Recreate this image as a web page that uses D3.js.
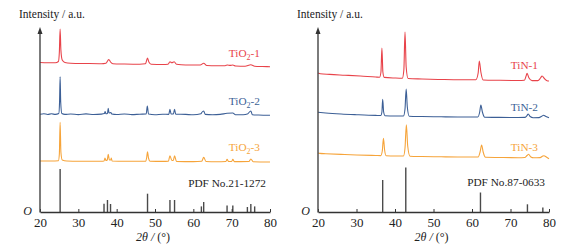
<!DOCTYPE html>
<html>
<head>
<meta charset="utf-8">
<script src="https://cdn.jsdelivr.net/npm/d3@7"></script>
<style>
  html, body { margin: 0; padding: 0; background: #fff; }
</style>
</head>
<body>
<div id="chart"></div>
<script>
// 2θ ticks
const xTicks = [20, 30, 40, 50, 60, 70, 80];

// XRD traces, [2θ, intensity a.u.]
const tio2_1 = [[20,149.5],[22,149.2],[24,149.2],[24.8,150.5],[25.05,160],[25.25,183],[25.45,162],[25.8,152],[26.5,149.5],[28,148.8],[32,148.5],[36,148.3],[37.2,148.8],[37.7,151.5],[37.95,152.5],[38.4,150],[39,148.3],[42,148],[46,147.8],[47.5,148.2],[47.85,152],[48.05,154],[48.4,150],[49,147.8],[52,147.5],[53.4,147.8],[53.9,150.3],[54.4,149.2],[55,150.3],[55.6,147.8],[58,147],[61.8,147],[62.7,148.8],[63.5,146.5],[66,146.2],[68.3,146.3],[68.9,147],[69.6,146.6],[70.3,147],[71,146],[73.5,145.8],[75,147.2],[76,145.8],[78,145.5],[80,145.3]];
const tio2_2 = [[20,97.7],[21,98.3],[22,97.5],[23,98.2],[24,97.6],[24.9,98.4],[25.1,110],[25.25,135.3],[25.4,110],[25.7,98.5],[26.5,97.6],[28,98],[30,97.4],[32,98.1],[34,97.5],[36,97.9],[36.8,98.5],[37,100.5],[37.2,98.2],[37.6,98.6],[37.8,103.7],[38,99],[38.5,99.5],[38.7,98],[40,97.5],[42,98],[44,97.4],[46,97.8],[47.7,98],[48,106],[48.3,98],[50,97.3],[52,97.8],[53.6,97.6],[53.9,102.7],[54.2,98],[54.8,98],[55.1,102.7],[55.4,97.8],[58,97.6],[60,97.2],[62,98.3],[62.2,99.5],[62.7,101],[63.1,97.6],[65,97.2],[67,97.6],[68.8,98.7],[70.3,99],[71,97.2],[73,97.3],[74.1,98],[75,101],[75.4,97.3],[77,97],[80,96.7]];
const tio2_3 = [[20,51],[23,51],[24.8,51.3],[25.05,58],[25.25,89.7],[25.45,60],[25.8,52],[27,51],[30,50.8],[36,50.8],[36.7,51],[36.95,54],[37.2,51.5],[37.55,52],[37.8,57.7],[38.1,52],[38.45,52],[38.6,54],[38.8,51],[42,50.7],[47.6,50.8],[47.85,55],[48.05,60.3],[48.3,54],[48.7,50.8],[52,50.6],[53.5,50.8],[53.9,56.3],[54.4,51.5],[54.8,51.8],[55.1,56.3],[55.6,50.6],[60,50.4],[62.2,50.8],[62.7,54.7],[63.3,50.5],[66,50.3],[68.5,50.5],[68.8,52.7],[69.2,50.5],[70,50.5],[70.3,52.7],[70.7,50.4],[74.5,50.5],[75,53],[75.6,50.3],[80,50]];
const tin_1 = [[20,139],[20.6,138.3],[23,137.6],[27,136.8],[31,136],[35,135],[36,134.8],[36.35,140],[36.6,164],[36.85,140],[37.2,134.6],[40,134],[41.9,133.8],[42.3,142],[42.6,180],[42.9,145],[43.4,133.5],[47,133],[52,132.5],[57,132.2],[61,132.3],[61.6,139],[61.9,151],[62.3,140],[62.9,132],[67,131.7],[72,131.5],[73.6,131.8],[74.05,136],[74.3,138.7],[74.8,134],[75.6,131.4],[77.1,131.4],[77.8,134],[78.2,136],[78.8,133.5],[79.5,131.3],[80,131]];
const tin_2 = [[20,99.7],[22,99],[26,98],[30,97.3],[35,96.6],[36.3,96.5],[36.6,100],[36.8,112.7],[37.05,100],[37.4,96.3],[40,96],[42.2,96],[42.6,103],[42.9,123],[43.2,105],[43.7,95.8],[47,95.5],[52,95.2],[57,95],[61.5,95],[62,100],[62.3,107],[62.7,100],[63.3,94.8],[67,94.6],[72,94.5],[73.8,94.6],[74.3,96.5],[74.6,98],[75.1,95.5],[75.9,94.3],[77.4,94.4],[78.1,95.7],[78.6,96.7],[79.2,95.5],[80,94.2]];
const tin_3 = [[20,59],[20.5,58.6],[22,58.3],[26,57.6],[30,57],[35,56.5],[36.3,56.4],[36.7,61],[37,73.7],[37.3,62],[37.7,56.3],[40,56],[42.2,56],[42.6,64],[42.95,87.3],[43.3,66],[43.9,55.8],[47,55.5],[52,55.2],[57,55],[61.6,55],[62.1,60],[62.5,67],[62.9,60],[63.5,54.7],[67,54.5],[72,54.3],[73.7,54.5],[74.3,56.5],[74.7,57.7],[75.3,55],[76,54.2],[77.7,54.4],[78.4,56],[78.7,56.3],[79.3,55],[80,53.3]];

// reference patterns (stick positions / heights)
const pdf_tio2 = [[25.25,43],[36.7,8.3],[37.6,12],[38.4,8],[48.05,18.3],[53.9,12],[55.1,12],[62.1,5.6],[62.7,10],[68.8,6.6],[70.3,6.6],[74.1,5],[75,8],[76,5.6]];
const pdf_tin = [[36.8,32],[42.8,44.5],[62.2,19.5],[74.4,7.7],[78.4,4.5]];

const seriesColors = ['#e8434a', '#3c5f96', '#f6a43a'];
const stickColor = '#4a4a4a';
const SERIF = "'Liberation Serif', 'Times New Roman', Times, 'DejaVu Serif', serif";

const panels = [
  { x0: 40, x1: 270, traces: [tio2_1, tio2_2, tio2_3], sticks: pdf_tio2,
    names: [['TiO', '2', '-1'], ['TiO', '2', '-2'], ['TiO', '2', '-3']],
    labelY: [57, 105, 151], pdf: 'PDF No.21-1272', pdfY: 187, labelX: 260, pdfX: 266 },
  { x0: 318, x1: 549, traces: [tin_1, tin_2, tin_3], sticks: pdf_tin,
    names: [['TiN-1'], ['TiN-2'], ['TiN-3']],
    labelY: [69, 111, 151], pdf: 'PDF No.87-0633', pdfY: 186, labelX: 538, pdfX: 545 }
];

const W = 586, H = 251, yBase = 212, yTop = 27;
const svg = d3.select('#chart').append('svg').attr('width', W).attr('height', H)
  .attr('font-family', SERIF);

panels.forEach(p => {
  const x = d3.scaleLinear().domain([20, 80]).range([p.x0, p.x1]);
  const y = d3.scaleLinear().domain([0, yBase - yTop]).range([yBase, yTop]);
  const g = svg.append('g');

  // sticks
  g.append('g').selectAll('line').data(p.sticks).join('line')
    .attr('x1', d => x(d[0])).attr('x2', d => x(d[0]))
    .attr('y1', y(0)).attr('y2', d => y(d[1]))
    .attr('stroke', stickColor).attr('stroke-width', 1.4);

  // traces
  const line = d3.line().x(d => x(d[0])).y(d => y(d[1])).curve(d3.curveMonotoneX);
  p.traces.forEach((t, i) => {
    g.append('path').attr('d', line(t)).attr('fill', 'none')
      .attr('stroke', seriesColors[i]).attr('stroke-width', 1.1).attr('stroke-linejoin', 'round');
  });

  // x axis
  const ax = g.append('g').attr('transform', `translate(0,${yBase})`)
    .call(d3.axisBottom(x).tickValues(xTicks).tickSizeInner(-3).tickSizeOuter(0).tickPadding(6));
  ax.attr('font-family', SERIF).attr('font-size', 13);
  ax.select('.domain').attr('stroke', '#333').attr('stroke-width', 1.3);
  ax.selectAll('.tick line').attr('stroke', '#333');
  ax.selectAll('.tick text').attr('fill', '#222');

  // y axis with arrow
  g.append('line').attr('x1', p.x0).attr('x2', p.x0).attr('y1', yBase + 0.6).attr('y2', yTop + 4)
    .attr('stroke', '#444').attr('stroke-width', 1.4);
  g.append('path').attr('d', `M${p.x0},${yTop} L${p.x0 - 2.5},${yTop + 7} L${p.x0 + 2.5},${yTop + 7} Z`).attr('fill', '#333');

  g.append('text').attr('x', p.x0 - 21).attr('y', 18).attr('font-size', 11.5).attr('fill', '#222').text('Intensity / a.u.');
  g.append('text').attr('x', p.x0 - 8).attr('y', 215).attr('text-anchor', 'end').attr('font-size', 12)
    .attr('font-style', 'italic').attr('fill', '#222').text('O');

  const xl = g.append('text').attr('x', (p.x0 + p.x1) / 2 - 2).attr('y', 241).attr('text-anchor', 'middle')
    .attr('font-size', 12).attr('fill', '#222');
  xl.append('tspan').attr('font-style', 'italic').text('2θ / ');
  xl.append('tspan').text('(°)');

  // series labels
  p.names.forEach((n, i) => {
    const t = g.append('text').attr('x', p.labelX).attr('y', p.labelY[i]).attr('text-anchor', 'end')
      .attr('font-size', 11.3).attr('fill', seriesColors[i]);
    t.append('tspan').text(n[0]);
    if (n.length > 1) {
      t.append('tspan').attr('font-size', 8).attr('dy', 2.5).text(n[1]);
      t.append('tspan').attr('dy', -2.5).text(n[2]);
    }
  });
  g.append('text').attr('x', p.pdfX).attr('y', p.pdfY).attr('text-anchor', 'end')
    .attr('font-size', 11.3).attr('fill', '#222').text(p.pdf);
});
</script>
</body>
</html>
